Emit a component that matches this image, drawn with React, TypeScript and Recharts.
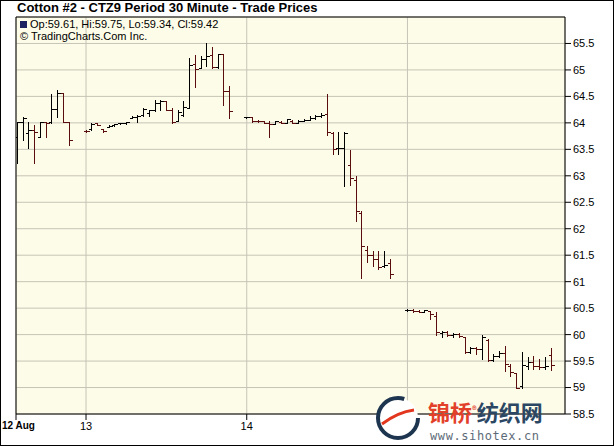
import React from 'react';
import { ComposedChart, Bar, XAxis, YAxis, CartesianGrid, ReferenceLine } from 'recharts';

// 30-minute slots; each trading day starts on a fixed slot
const DAY_LABELS = ['12 Aug', '13', '14', '15'];
const DAY_TICKS = [-12.2, 0, 28, 56];
const DAY_FIRST_SLOT = [-12, 0, 28, 56];
const DAY_BAR_COUNT = [10, 26, 26, 26];
const Y_TICKS = [58.5, 59, 59.5, 60, 60.5, 61, 61.5, 62, 62.5, 63, 63.5, 64, 64.5, 65, 65.5];

const OPEN = [
  // 12 Aug
  63.73, 64.02, 63.80, 63.86, 63.73, 64.02, 64.02, 64.27, 64.56, 64.02,
  // 13
  63.85, 63.88, 64.00, 63.88, 63.93, 63.96, 63.99, 63.99, 64.09, 64.12, 64.14, 64.18, 64.24,
  64.38, 64.41, 64.25, 64.03, 64.15, 64.28, 65.12, 65.03, 65.20, 65.28, 65.05, 65.30, 64.60,
  // 14
  64.11, 64.11, 64.04, 64.03, 64.00, 63.97, 64.02, 64.00, 64.04, 64.00, 64.04, 64.06, 64.10,
  64.13, 64.16, 63.80, 63.52, 63.52, 63.20, 62.92, 62.30, 61.60, 61.50, 61.42, 61.30, 61.35,
  // 15
  60.46, 60.47, 60.44, 60.43, 60.44, 60.35, 60.03, 60.05, 60.00, 60.01, 59.95, 59.68, 59.74,
  59.72, 59.90, 59.52, 59.60, 59.65, 59.40, 59.28, 59.02, 59.40, 59.48, 59.40, 59.38, 59.61,
];
const HIGH = [
  64.02, 64.12, 64.02, 63.96, 64.02, 64.02, 64.55, 64.63, 64.56, 64.02,
  63.87, 64.00, 64.00, 63.88, 63.96, 63.98, 64.00, 64.02, 64.13, 64.15, 64.28, 64.25, 64.43,
  64.43, 64.41, 64.28, 64.25, 64.41, 65.22, 65.28, 65.26, 65.50, 65.44, 65.31, 65.31, 64.69,
  64.12, 64.11, 64.05, 64.04, 64.04, 64.04, 64.04, 64.08, 64.05, 64.06, 64.08, 64.13, 64.15,
  64.18, 64.55, 63.83, 63.83, 63.83, 63.48, 63.00, 62.33, 61.67, 61.57, 61.57, 61.57, 61.42,
  60.49, 60.49, 60.47, 60.47, 60.45, 60.42, 60.07, 60.07, 60.03, 60.03, 59.96, 59.76, 59.76,
  60.00, 59.91, 59.63, 59.69, 59.78, 59.44, 59.28, 59.68, 59.57, 59.60, 59.54, 59.57, 59.75,
];
const LOW = [
  63.24, 63.67, 63.52, 63.24, 63.73, 63.73, 63.99, 64.11, 64.02, 63.58,
  63.83, 63.87, 63.96, 63.83, 63.92, 63.95, 63.98, 63.98, 64.09, 64.02, 64.13, 64.13, 64.22,
  64.24, 64.24, 64.00, 64.03, 64.13, 64.28, 64.68, 65.03, 65.07, 65.03, 65.03, 64.34, 64.09,
  64.10, 64.02, 64.02, 64.00, 63.74, 63.97, 64.00, 63.99, 63.99, 63.99, 64.03, 64.05, 64.08,
  64.11, 63.77, 63.42, 63.42, 62.80, 62.82, 62.14, 61.07, 61.38, 61.29, 61.23, 61.27, 61.07,
  60.44, 60.43, 60.42, 60.42, 60.29, 60.00, 59.96, 59.98, 59.96, 59.96, 59.66, 59.66, 59.63,
  59.53, 59.50, 59.50, 59.57, 59.31, 59.22, 59.00, 59.00, 59.35, 59.35, 59.35, 59.35, 59.34,
];
const CLOSE = [
  64.02, 64.09, 63.86, 63.83, 64.02, 64.00, 64.27, 64.56, 64.02, 63.67,
  63.84, 63.98, 63.96, 63.84, 63.95, 63.97, 64.00, 64.01, 64.12, 64.13, 64.27, 64.24, 64.38,
  64.42, 64.25, 64.02, 64.20, 64.30, 65.10, 65.02, 65.20, 65.27, 65.05, 65.30, 64.60, 64.22,
  64.11, 64.03, 64.03, 64.00, 63.97, 64.03, 64.00, 64.07, 64.00, 64.04, 64.06, 64.10, 64.13,
  64.15, 63.83, 63.50, 63.52, 63.80, 62.95, 62.33, 61.67, 61.50, 61.42, 61.27, 61.32, 61.15,
  60.47, 60.44, 60.43, 60.47, 60.38, 60.04, 60.05, 60.00, 60.01, 59.98, 59.68, 59.74, 59.72,
  59.95, 59.52, 59.60, 59.65, 59.45, 59.30, 59.00, 59.42, 59.48, 59.40, 59.38, 59.40, 59.42,
];

const SLOTS = DAY_FIRST_SLOT.flatMap((first, d) =>
  Array.from({ length: DAY_BAR_COUNT[d] }, (_, i) => first + i),
);

const data = SLOTS.map((slot, i) => ({
  slot,
  open: OPEN[i],
  high: HIGH[i],
  low: LOW[i],
  close: CLOSE[i],
  range: [LOW[i], HIGH[i]],
}));

const FONT = 'Arial, "Liberation Sans", sans-serif';

function OhlcBar(props: any) {
  const { x, y, width, height, payload } = props;
  if (x == null || y == null || !payload) return null;
  const top = Math.min(y, y + height);
  const bottom = Math.max(y, y + height, top + 1);
  const span = payload.high - payload.low;
  const toY = (v: number) =>
    Math.round(span > 0 ? top + ((payload.high - v) / span) * (bottom - top) : top) + 0.5;
  const cx = Math.round(x + width / 2) + 0.5;
  const color = payload.close < payload.open ? '#5a0d0d' : '#000';
  return (
    <g stroke={color} strokeWidth={1} shapeRendering="crispEdges">
      <line x1={cx} x2={cx} y1={Math.round(top)} y2={Math.round(bottom) + 1} />
      <line x1={cx - 3} x2={cx} y1={toY(payload.open)} y2={toY(payload.open)} />
      <line x1={cx} x2={cx + 3} y1={toY(payload.close)} y2={toY(payload.close)} />
    </g>
  );
}

function DayTick(props: any) {
  const { x, y, payload, index } = props;
  const first = index === 0;
  return (
    <text
      x={first ? x - 14 : x}
      y={y}
      dy="0.71em"
      textAnchor={first ? 'start' : 'middle'}
      fontFamily={FONT}
      fontSize={first ? 10 : 11}
      fontWeight={first ? 'bold' : 'normal'}
      fill="#000"
    >
      {DAY_LABELS[DAY_TICKS.indexOf(payload.value)]}
    </text>
  );
}

function Watermark() {
  return (
    <div style={{ position: 'absolute', left: 374, top: 394, width: 240, height: 52, pointerEvents: 'none' }}>
      <svg width={50} height={50} style={{ position: 'absolute', left: 0, top: 0 }}>
        <circle cx={24} cy={24} r={20} fill="#fff" stroke="#1e3550" strokeWidth={4} strokeDasharray="100 26" />
        <path d="M 8 30 Q 24 18 40 16" stroke="#e2361f" strokeWidth={3} fill="none" />
      </svg>
      <div style={{ position: 'absolute', left: 54, top: 4, fontFamily: '"Noto Sans CJK SC"', fontWeight: 'bold', fontSize: 22, lineHeight: '26px', whiteSpace: 'nowrap' }}>
        <span style={{ color: '#e3402a' }}>锦桥</span>
        <span style={{ color: '#e3402a', fontSize: 9, verticalAlign: 'top' }}>®</span>
        <span style={{ color: '#2b4764' }}>纺织网</span>
      </div>
      <div style={{ position: 'absolute', left: 56, top: 35, fontFamily: '"DejaVu Sans Mono", monospace', fontSize: 12, letterSpacing: 0.6, color: '#5d6b78' }}>
        www.sihotex.cn
      </div>
    </div>
  );
}

export default function App() {
  return (
    <div style={{ position: 'absolute', left: 0, top: 0, width: 614, height: 446, background: '#fff', overflow: 'hidden' }}>
      <ComposedChart
        width={614}
        height={446}
        data={data}
        margin={{ top: 17, right: 0, bottom: 0, left: 16 }}
      >
        <CartesianGrid stroke="#c6c4b6" fill="#fdfce8" />
        <XAxis
          dataKey="slot"
          type="number"
          domain={[-12.2, 83.45]}
          allowDataOverflow
          ticks={DAY_TICKS}
          interval={0}
          tick={<DayTick />}
          height={32}
          tickSize={6}
          axisLine={{ stroke: '#000' }}
          tickLine={{ stroke: '#000' }}
        />
        <YAxis
          orientation="right"
          domain={[58.5, 66]}
          allowDataOverflow
          ticks={Y_TICKS}
          interval={0}
          width={49}
          tickSize={6}
          tickFormatter={(v: number) => String(v)}
          tick={{ fill: '#000', fontSize: 11, fontFamily: FONT }}
          axisLine={{ stroke: '#000' }}
          tickLine={{ stroke: '#000' }}
        />
        <ReferenceLine x={-12.2} stroke="#000" />
        <ReferenceLine y={66} stroke="#000" />
        <Bar dataKey="range" barSize={6} shape={<OhlcBar />} isAnimationActive={false} />
      </ComposedChart>

      <div style={{ position: 'absolute', left: 17, top: 0, fontFamily: FONT, fontWeight: 'bold', fontSize: 13, lineHeight: '16px', color: '#000', whiteSpace: 'nowrap' }}>
        Cotton #2 - CTZ9 Period 30 Minute - Trade Prices
      </div>
      <div style={{ position: 'absolute', left: 20, top: 18, fontFamily: FONT, fontSize: 11, lineHeight: '12px', color: '#000', whiteSpace: 'nowrap' }}>
        <div>
          <span style={{ display: 'inline-block', width: 7, height: 7, background: '#1c2160', marginRight: 3, verticalAlign: 0 }} />
          Op:59.61, Hi:59.75, Lo:59.34, Cl:59.42
        </div>
        <div>© TradingCharts.Com Inc.</div>
      </div>

      <Watermark />
      <div style={{ position: 'absolute', left: 0, top: 0, width: 614, height: 446, boxSizing: 'border-box', border: '1px solid #000', pointerEvents: 'none' }} />
    </div>
  );
}
